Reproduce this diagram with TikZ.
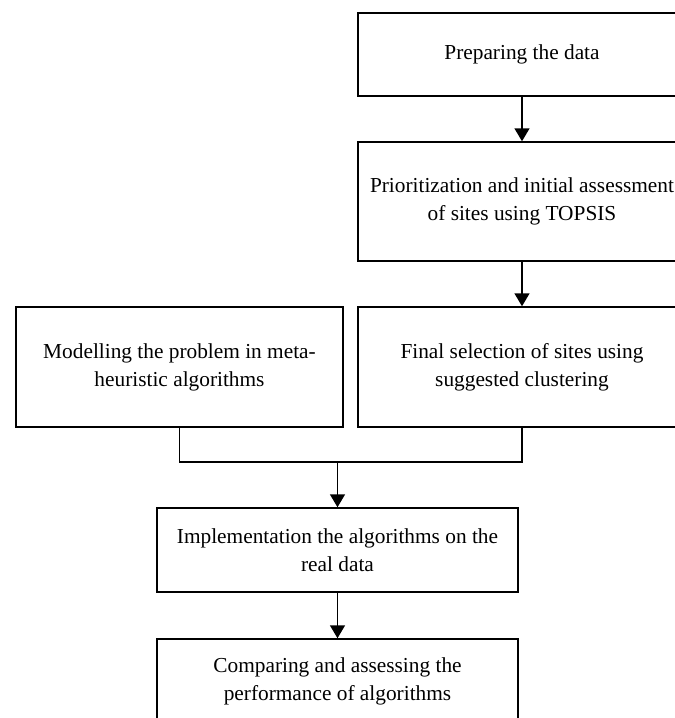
\documentclass[tikz,border=0pt]{standalone}
\usepackage{fontspec}
\setmainfont{Liberation Serif}
\usetikzlibrary{arrows.meta}

\begin{document}
\begin{tikzpicture}[>={Triangle[width=11.25pt,length=9.75pt]},x=0.75pt,y=-0.75pt,
                stage/.style={rectangle,draw=black,line width=1.1pt,fill=white,
                        align=center,inner sep=0pt,font=\fontsize{16}{21}\selectfont}]
                \useasboundingbox (0,0) rectangle (675,718);
                \clip (0,0) rectangle (675,718);
                \node[stage,minimum width=246pt,minimum height=62.25pt] (prep) at (522, 54.5) {Preparing the data};
                \node[stage,minimum width=246pt,minimum height=89.25pt] (prio) at (522, 201.5)
                        {Prioritization and initial assessment\\of sites using TOPSIS};
                \node[stage,minimum width=245.25pt,minimum height=90pt] (model) at (179.5, 367)
                        {Modelling the problem in meta-\\heuristic algorithms};
                \node[stage,minimum width=246pt,minimum height=90pt] (select) at (522, 367)
                        {Final selection of sites using\\suggested clustering};
                \node[stage,minimum width=270.75pt,minimum height=63pt] (impl) at (337.5, 550)
                        {Implementation the algorithms on the\\real data};
                \node[stage,minimum width=270.75pt,minimum height=63pt] (comp) at (337.5, 681)
                        {Comparing and assessing the\\performance of algorithms};
                \coordinate (merge) at (337.5, 462);
                \draw[->,line width=1.1pt] (prep) -- (prio);
                \draw[->,line width=1.1pt] (prio) -- (select);
                \draw[line width=1.1pt] (model.south) |- (merge) -| (select.south);
                \draw[->,line width=1.1pt] (merge) -- (impl);
                \draw[->,line width=1.1pt] (impl) -- (comp);
            \end{tikzpicture}
\end{document}
